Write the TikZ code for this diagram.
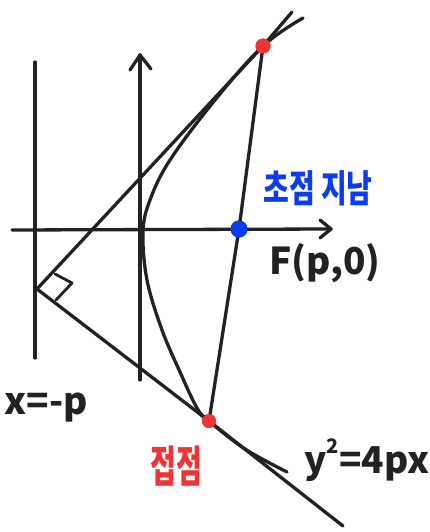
\documentclass[tikz,border=0pt]{standalone}
\usepackage{fontspec}
\usetikzlibrary{calc}
\setmainfont{Noto Sans CJK KR}
\newfontfamily\kr{Noto Sans CJK KR}
\definecolor{ink}{RGB}{34,34,34}
\definecolor{dotred}{RGB}{240,52,52}
\definecolor{dotblue}{RGB}{12,60,240}
\begin{document}
\begin{tikzpicture}[x=1pt,y=-1pt,
  stroke/.style={draw=ink,line width=3.3pt,line cap=round,line join=round},
  lbl/.style={text=ink,inner sep=0pt,font=\bfseries\fontsize{37}{37}\selectfont},
  krlbl/.style={inner sep=0pt,font=\kr\bfseries\fontsize{28}{28}\selectfont}]
\useasboundingbox (0,0) rectangle (429,532);
% points
\coordinate (dtop) at (35,62);
\coordinate (dbot) at (35,358);
\coordinate (yb) at (140,380);
\coordinate (yt) at (140,55);
\coordinate (xl) at (12,230);
\coordinate (xr) at (331,229);
\coordinate (K) at (37,289);
\coordinate (T1) at (292,12);
\coordinate (T2) at (343,526);
\node[circle,fill=dotred,inner sep=0pt,minimum size=15pt] (P) at (263,46) {};
\node[circle,fill=dotred,inner sep=0pt,minimum size=14pt] (Q) at (209,421) {};
\node[circle,fill=dotblue,inner sep=0pt,minimum size=17pt] (F) at (239,229) {};
% directrix
\draw[stroke] (dtop) -- (dbot);
% axes
\draw[stroke] (yb) -- (yt);
\draw[stroke] ($(yt)+(-10,15)$) -- (yt) -- ($(yt)+(11,14)$);
\draw[stroke] (xl) -- (xr);
\draw[stroke] ($(xr)+(-11,-9)$) -- (xr) -- ($(xr)+(-11,9)$);
% tangent lines
\draw[stroke] (K) -- (P.center) -- (T1);
\draw[stroke] (K) -- (Q.center) -- (T2);
% right angle mark
\draw[stroke,line width=2.8pt] (55,274) -- (72,283) -- (56,300);
% parabola
\draw[stroke] plot[smooth,tension=0.6] coordinates {(303,18) (263,46) (215,100) (170,160) (150,200) (143,232) (147,280) (162,330) (180,372) (197,408) (209,421) (245,449) (287,472)};
% focal chord
\draw[stroke] (P.center) -- (F.center) -- (Q.center);
% redraw dots on top
\fill[dotred] (P) circle (7.5pt);
\fill[dotred] (Q) circle (7pt);
\fill[dotblue] (F) circle (8.5pt);
% labels
\node[krlbl,text=dotblue] (lf) at (318,188) {\scalebox{1}[1.35]{초점 지남}};
\node[lbl] (Fl) at (325,263) {F(p,0)};
\node[lbl] (dl) at (46,408) {x=-p};
\node[krlbl,text=dotred] (tl) at (176,466) {\scalebox{1}[1.55]{접점}};
\node[lbl] (pl) at (367,460) {y\raisebox{0.55em}{\fontsize{20}{20}\selectfont 2}=4px};
\end{tikzpicture}
\end{document}
